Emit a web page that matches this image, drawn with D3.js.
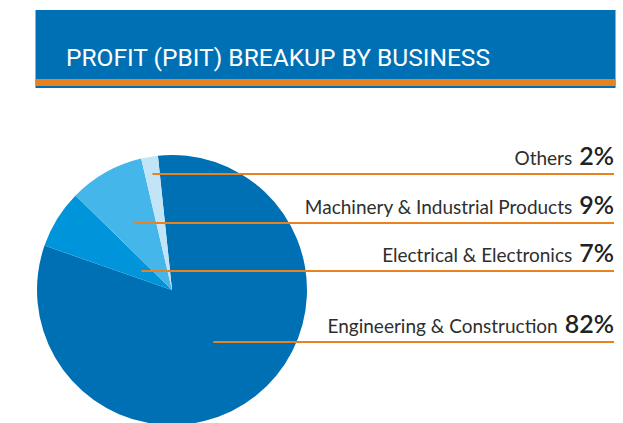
<!DOCTYPE html>
<html lang="en">
<head>
<meta charset="UTF-8">
<title>Profit (PBIT) Breakup by Business</title>
<script src="https://d3js.org/d3.v7.min.js"></script>
<style>
    body { margin: 0; background: #fff; }
    .label { font-family: Lato, "Open Sans", sans-serif; fill: #2e2e2e; }
    .pct { font-family: Lato, "Open Sans", sans-serif; fill: #222; font-weight: 600; }
    .leader { stroke: #e8821e; stroke-width: 2px; }
</style>
</head>
<body>
<div id="chart"></div>
<script>
    // data (clockwise from top)
    const categories = ["Engineering & Construction", "Electrical & Electronics", "Machinery & Industrial Products", "Others"];
    const values = [82, 7, 9, 2];
    const colors = ["#0070b5", "#0095db", "#45b6ea", "#c2e4f7"];

    const width = 623, height = 423;
    const cx = 172, cy = 290, radius = 135;
    // y of each leader line, same order as categories
    const rowY = [342, 271, 223, 174];
    const rightEdge = 614;

    const svg = d3.select("#chart")
      .append("svg")
        .attr("width", width)
        .attr("height", height);

    // banner
    svg.append("rect")
        .attr("x", 35.5).attr("y", 10)
        .attr("width", 580).attr("height", 78)
        .attr("fill", "#0070b5");
    svg.append("rect")
        .attr("x", 35.5).attr("y", 79)
        .attr("width", 580).attr("height", 7)
        .attr("fill", "#e8821e");

    svg.append("text")
        .attr("x", 66)
        .attr("y", 66)
        .attr("fill", "#fff")
        .attr("textLength", 424)
        .attr("lengthAdjust", "spacingAndGlyphs")
        .style("font-family", "Roboto, 'Open Sans', sans-serif")
        .style("font-weight", 400)
        .style("font-size", "24px")
        .text("PROFIT (PBIT) BREAKUP BY BUSINESS");

    // pie
    const start = -6 * Math.PI / 180;
    const pie = d3.pie().sort(null).startAngle(start).endAngle(start + 2 * Math.PI);
    const arcs = pie(values);
    const arc = d3.arc().innerRadius(0).outerRadius(radius);

    const g = svg.append("g").attr("transform", `translate(${cx},${cy})`);
    g.selectAll("path")
        .data(arcs)
        .enter()
        .append("path")
        .attr("d", arc)
        .attr("fill", (d, i) => colors[i]);

    // leader lines: start where the row meets the slice's mid-angle ray
    arcs.forEach((d, i) => {
        const a = (d.startAngle + d.endAngle) / 2;
        const dy = rowY[i] - cy;
        // point on ray: x = sin(a)*t, y = -cos(a)*t
        const t = -dy / Math.cos(a);
        const x0 = cx + Math.sin(a) * t;
        svg.append("line")
            .attr("class", "leader")
            .attr("x1", x0).attr("x2", rightEdge)
            .attr("y1", rowY[i]).attr("y2", rowY[i]);

        const txt = svg.append("text")
            .attr("x", rightEdge)
            .attr("y", rowY[i] - 9)
            .attr("text-anchor", "end");
        txt.append("tspan")
            .attr("class", "label")
            .style("font-size", "19px")
            .text(categories[i]);
        txt.append("tspan")
            .attr("class", "pct")
            .attr("dx", 7)
            .style("font-size", "25px")
            .text(values[i] + "%");
    });
</script>
</body>
</html>
